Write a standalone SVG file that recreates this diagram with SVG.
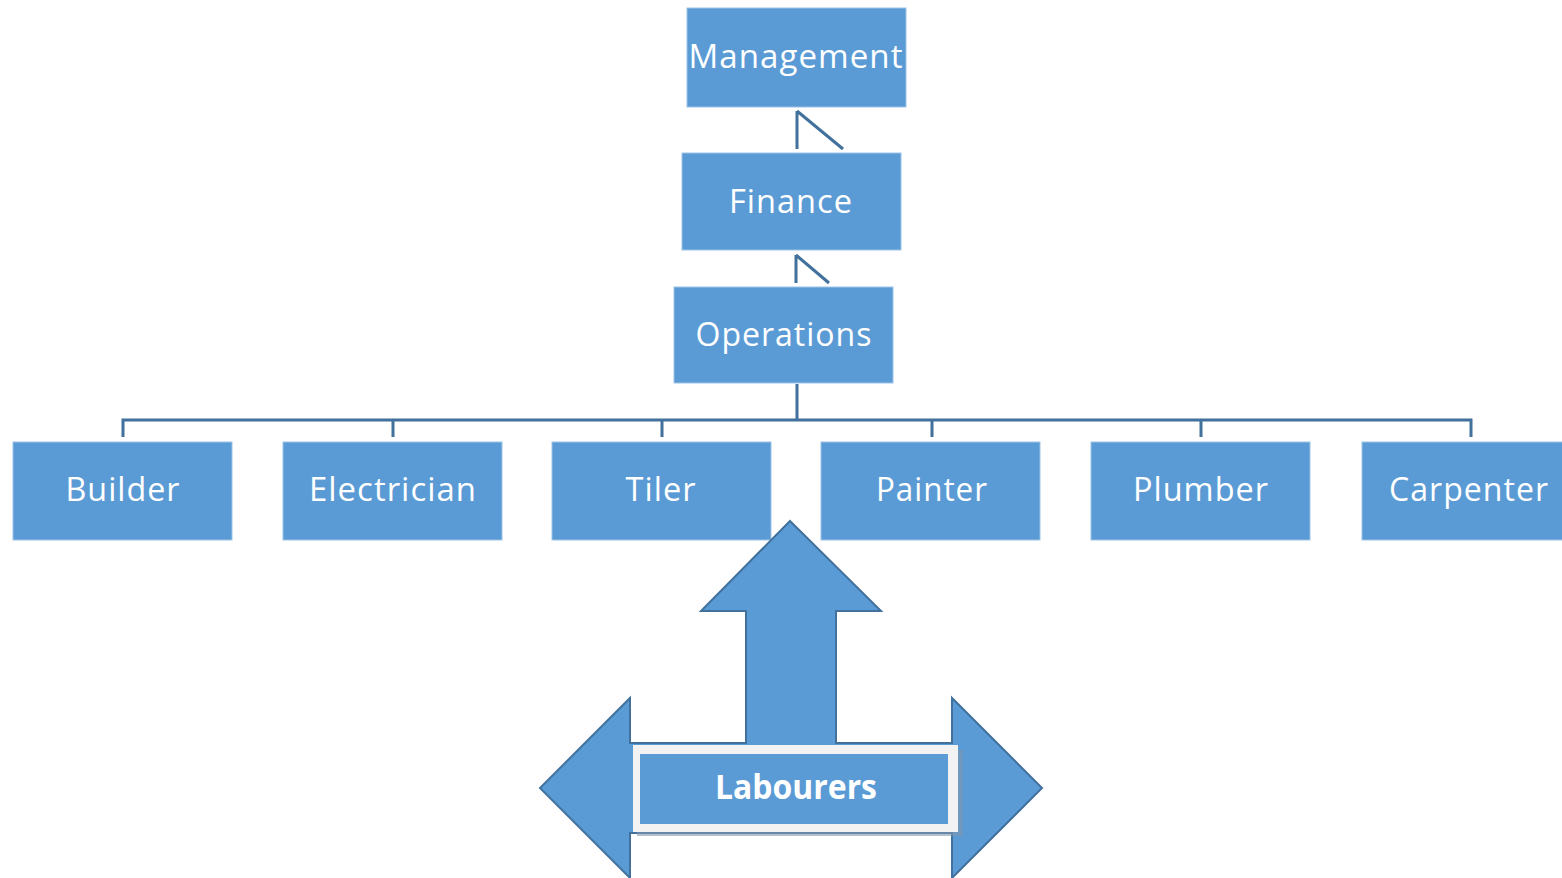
<svg xmlns="http://www.w3.org/2000/svg" width="1562" height="878" viewBox="0 0 1562 878">
<style>
.box{fill:#5B9BD5;stroke:#9DC3E6;stroke-width:1}
.lbl{font-family:"Open Sans","DejaVu Sans",sans-serif;font-size:32px;fill:#FFFFFF;text-anchor:middle;letter-spacing:1px}
.bold{font-weight:bold;letter-spacing:0;font-size:34px}
.con{fill:none;stroke:#41719C;stroke-width:3}
</style>
<rect width="1562" height="878" fill="#FFFFFF"/>
<g id="connectors">
<path class="con" d="M797,111 V149 M797,111 L843,149"/>
<path class="con" d="M796,255 V283 M796,255 L829,283"/>
<path class="con" d="M797,384 V420 M123,437 V420 H1471 V437 M393,420 V437 M662,420 V437 M932,420 V437 M1201,420 V437"/>
</g>
<g id="management"><rect class="box" x="687" y="8" width="219" height="99"/><text class="lbl" x="796" y="68" textLength="215" lengthAdjust="spacingAndGlyphs">Management</text></g>
<g id="finance"><rect class="box" x="682" y="153" width="219" height="97"/><text class="lbl" x="791" y="213" textLength="124" lengthAdjust="spacingAndGlyphs">Finance</text></g>
<g id="operations"><rect class="box" x="674" y="287" width="219" height="96"/><text class="lbl" x="784" y="346" textLength="177" lengthAdjust="spacingAndGlyphs">Operations</text></g>
<g id="builder"><rect class="box" x="13" y="442" width="219" height="98"/><text class="lbl" x="123" y="501" textLength="115" lengthAdjust="spacingAndGlyphs">Builder</text></g>
<g id="electrician"><rect class="box" x="283" y="442" width="219" height="98"/><text class="lbl" x="393" y="501" textLength="168" lengthAdjust="spacingAndGlyphs">Electrician</text></g>
<g id="tiler"><rect class="box" x="552" y="442" width="219" height="98"/><text class="lbl" x="661" y="501" textLength="71" lengthAdjust="spacingAndGlyphs">Tiler</text></g>
<g id="painter"><rect class="box" x="821" y="442" width="219" height="98"/><text class="lbl" x="932" y="501" textLength="112" lengthAdjust="spacingAndGlyphs">Painter</text></g>
<g id="plumber"><rect class="box" x="1091" y="442" width="219" height="98"/><text class="lbl" x="1201" y="501" textLength="136" lengthAdjust="spacingAndGlyphs">Plumber</text></g>
<g id="carpenter"><rect class="box" x="1362" y="442" width="202" height="98"/><text class="lbl" x="1469" y="501" textLength="160" lengthAdjust="spacingAndGlyphs">Carpenter</text></g>
<g id="arrow">
<polygon points="790,521 881,611 836,611 836,743 952,743 952,698 1042,788 952,878 952,833 630,833 630,878 540,788 630,698 630,743 746,743 746,611 701,611" fill="#5B9BD5" stroke="#41719C" stroke-width="2" stroke-linejoin="miter"/>
</g>
<g id="labourers">
<rect x="637" y="750" width="326" height="86" fill="#7F96B0" opacity="0.6"/>
<rect x="633" y="745" width="325" height="87" fill="#F2F2F2"/>
<rect x="640" y="754" width="308" height="70" fill="#5B9BD5"/>
<text class="lbl bold" x="796" y="799" textLength="162" lengthAdjust="spacingAndGlyphs">Labourers</text>
</g>
</svg>
